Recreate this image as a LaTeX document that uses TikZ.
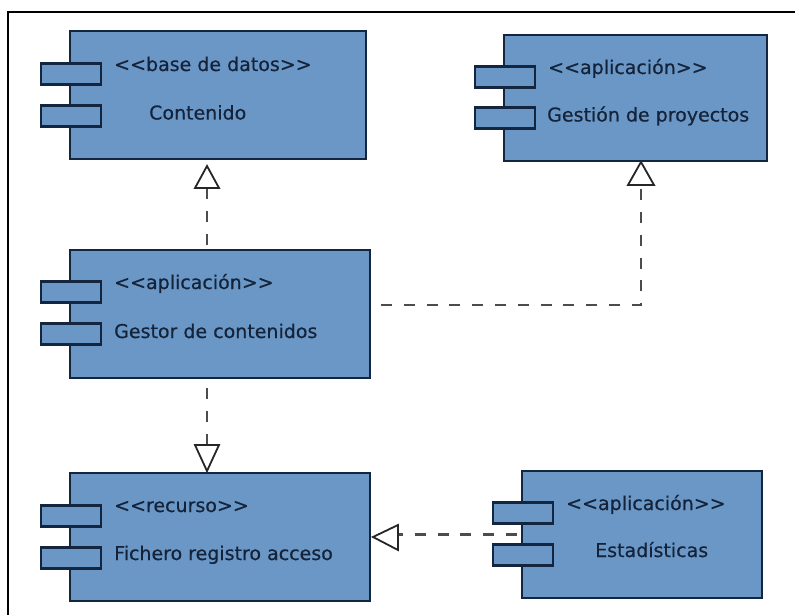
\documentclass[tikz,border=0pt]{standalone}
\usepackage{fontspec}
\setmainfont[RawFeature={embolden=0.5}]{DejaVu Sans}
\usetikzlibrary{arrows.meta,calc}
\definecolor{compfill}{HTML}{6A97C5}
\definecolor{compline}{HTML}{14263F}
\definecolor{comptext}{HTML}{14233A}
\tikzset{
  x=1pt,y=-1pt,
  comp/.style={draw=compline,fill=compfill,line width=2.4pt,inner sep=0pt,outer sep=0pt,rectangle},
  port/.style={comp,minimum width=60pt,minimum height=21pt},
  lbl/.style={text=comptext,inner sep=0pt,anchor=base west,font=\fontsize{19pt}{20pt}\selectfont},
  dep/.style={draw=black!70,line width=2.6pt,dash pattern=on 11pt off 11.8pt},
  tri/.style={draw=black!85,fill=white,line width=1.8pt,line join=miter},
}
\newcommand{\comp}[7]{%
  \node[comp,minimum width=#4pt-#2pt,minimum height=#5pt-#3pt] (#1) at ({(#2+#4)/2},{(#3+#5)/2}) {};
  \node[port] (#1p) at (#2+1,#6) {};
  \node[port] (#1q) at (#2+1,#7) {};
}
\newcommand{\gt}{{>}{>}}
\newcommand{\lt}{{<}{<}}
\begin{document}
\begin{tikzpicture}
\useasboundingbox (0,0) rectangle (795,615);
\fill[white] (0,0) rectangle (795,615);
\coordinate (tl) at (8,12);
\coordinate (tr) at (795,12);
\coordinate (bl) at (8,615);
\draw[black,line width=1.2pt] (tr) -- (tl) -- (bl);

\comp{A}{70}{31}{366}{159}{74}{116}
\comp{B}{504}{35}{767}{161}{77}{118}
\comp{C}{70}{250}{370}{378}{292}{334}
\comp{D}{70}{473}{370}{601}{516}{558}
\comp{E}{522}{471}{762}{598}{513}{555}

\node[lbl] (At) at (114,71) {\lt base de datos\gt};
\node[lbl] (An) at (149,119.5) {Contenido};
\node[lbl] (Bt) at (548,74) {\lt aplicación\gt};
\node[lbl] (Bn) at (547,121.5) {Gestión de proyectos};
\node[lbl] (Ct) at (114,289) {\lt aplicación\gt};
\node[lbl] (Cn) at (114,338) {Gestor de contenidos};
\node[lbl] (Dt) at (114,512) {\lt recurso\gt};
\node[lbl] (Dn) at (114,560) {Fichero registro acceso};
\node[lbl] (Et) at (566,510) {\lt aplicación\gt};
\node[lbl] (En) at (595,557) {Estadísticas};

% C -> A
\draw[dep] ([xshift=137pt,yshift=-29pt]A.south west) -- ([xshift=137pt,yshift=3pt]C.north west);
\draw[tri] ([xshift=137pt,yshift=-7pt]A.south west) -- ++(12,22) -- ++(-24,0) -- cycle;
% C -> B
\coordinate (bend) at (641,305);
\draw[dep] ([yshift=9pt,xshift=11pt]C.east) -- (bend) -- ([xshift=137pt,yshift=-24pt]B.south west);
\draw[tri] ([xshift=137pt,yshift=-1pt]B.south west) -- ++(13,23) -- ++(-26,0) -- cycle;
% C -> D
\draw[dep] ([xshift=137pt,yshift=-10pt]C.south west) -- ([xshift=137pt,yshift=26pt]D.north west);
\draw[tri] ([xshift=137pt,yshift=2pt]D.north west) -- ++(12,-26) -- ++(-24,0) -- cycle;
% E -> D
\draw[dep] ([xshift=-5pt]E.west) -- ([xshift=28pt]D.east |- E.west);
\draw[tri] ([xshift=3pt]D.east) -- ++(25,-12) -- ++(0,25) -- cycle;
\end{tikzpicture}
\end{document}
